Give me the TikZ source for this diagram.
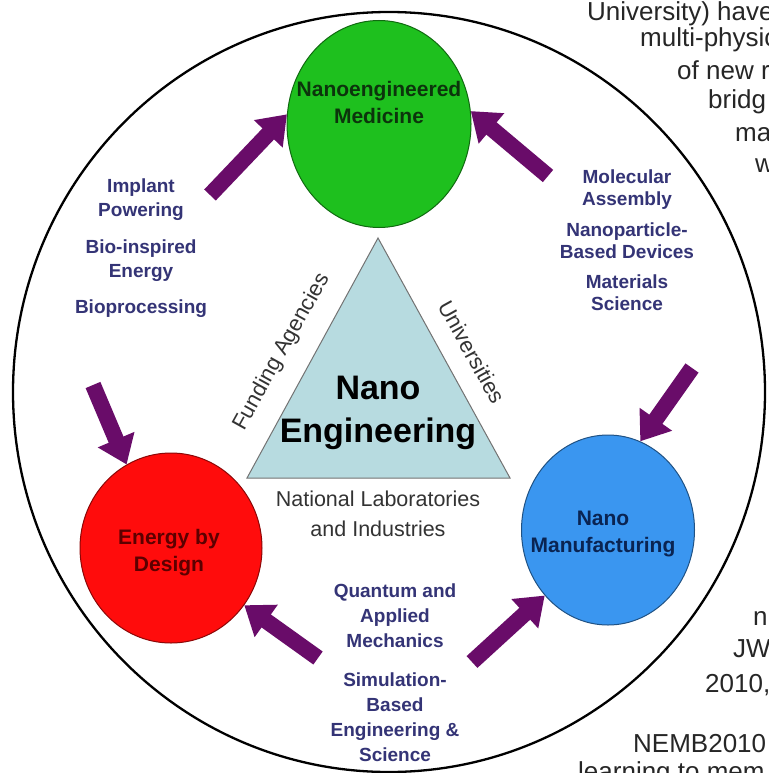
\documentclass[tikz,border=0pt]{standalone}
\usepackage{fontspec}
\setmainfont{Liberation Sans}
\usetikzlibrary{arrows.meta,shapes.geometric}
\definecolor{medgreen}{RGB}{30,192,30}
\definecolor{nrgred}{RGB}{255,12,12}
\definecolor{mfgblue}{RGB}{58,150,240}
\definecolor{trifill}{RGB}{183,219,224}
\definecolor{labelblue}{RGB}{52,52,118}
\definecolor{arrowpurple}{RGB}{105,12,105}
\definecolor{medtext}{RGB}{12,52,12}
\definecolor{nrgtext}{RGB}{92,0,0}
\definecolor{mfgtext}{RGB}{10,36,82}
\begin{document}
\begin{tikzpicture}[x=1pt,y=-1pt,
  hub/.style={ellipse,draw=#1!55!black,fill=#1,line width=1pt,inner sep=0pt},
  hubtext/.style={font=\fontsize{21}{27}\selectfont\bfseries,align=center},
  topic/.style={font=\fontsize{19}{#1}\selectfont\bfseries,text=labelblue,align=center},
  topic/.default=23,
  side/.style={font=\fontsize{22}{26}\selectfont,text=black!80},
  flow/.style={line width=16pt,draw=arrowpurple,-{Triangle[width=38pt,length=27pt]}},
  page/.style={font=\fontsize{26}{32}\selectfont,text=black!85,anchor=base west,inner sep=0pt}]
\useasboundingbox (0,0) rectangle (768,773);
\fill[white] (0,0) rectangle (768,773);
% text of the surrounding page
\node[page] (f1) at (587,21) {University) have};
\node[page] (f2) at (640,47) {multi-physic};
\node[page] (f3) at (677,80) {of new r};
\node[page] (f4) at (708,109) {bridg};
\node[page] (f5) at (735,142) {ma};
\node[page] (f6) at (755,172) {w};
\node[page] (f7) at (753,625) {n};
\node[page] (f8) at (733,657) {JW};
\node[page] (f9) at (705,692) {2010,};
\node[page] (f10) at (633,752) {NEMB2010};
\node[page] (f11) at (578,780) {learning to mem};
\draw[line width=2.3pt] (389,392) ellipse [x radius=376,y radius=380];
% hubs
\node[hub=medgreen,minimum width=184pt,minimum height=207pt] (med) at (379,124) {};
\node[hub=nrgred,minimum width=182pt,minimum height=190pt] (nrg) at (171,548) {};
\node[hub=mfgblue,minimum width=173pt,minimum height=190pt] (mfg) at (608,530) {};
\node[hubtext,text=medtext] (medlbl) at (379,102) {Nanoengineered\\Medicine};
\node[hubtext,text=nrgtext] (nrglbl) at (169,553) {Energy by\\Design};
\node[hubtext,text=mfgtext] (mfglbl) at (603,534) {Nano\\Manufacturing};
% triangle
\coordinate (apex) at (378,238);
\coordinate (bl) at (247,478);
\coordinate (br) at (510,478);
\draw[fill=trifill,draw=black!55,line width=1pt] (apex) -- (br) -- (bl) -- cycle;
\node[font=\fontsize{34}{43}\selectfont\bfseries,align=center] (core) at (378,413) {Nano\\Engineering};
\node[side,rotate=61] (fund) at (282,352) {Funding Agencies};
\node[side,rotate=-61] (univ) at (472,352) {Universities};
\node[side,align=center,font=\fontsize{21.5}{30}\selectfont] (labs) at (378,514) {National Laboratories\\and Industries};
% topics
\node[topic=24] (impl) at (141,199.5) {Implant\\Powering};
\node[topic=24] (bio) at (141,260.5) {Bio-inspired\\Energy};
\node[topic] (proc) at (141,309) {Bioprocessing};
\node[topic=22] (mol) at (627,189.5) {Molecular\\Assembly};
\node[topic=22] (part) at (627,241) {Nanoparticle-\\Based Devices};
\node[topic=22] (mat) at (627,293) {Materials\\Science};
\node[topic=25] (quant) at (395,616) {Quantum and\\Applied\\Mechanics};
\node[topic=25] (sim) at (395,717.5) {Simulation-\\Based\\Engineering \&\\Science};
% arrows
\coordinate (t1) at (210,195);
\coordinate (t2) at (548,176);
\coordinate (t3) at (692,368);
\coordinate (t4) at (93,385);
\coordinate (t5) at (318,658);
\coordinate (t6) at (472,662);
\draw[flow] (t1) -- (med.174);
\draw[flow] (t2) -- (med.8);
\draw[flow] (t3) -- (mfg.70);
\draw[flow] (t4) -- (nrg.118);
\draw[flow] (t5) -- (nrg.-38);
\draw[flow] (t6) -- (mfg.226);
\end{tikzpicture}
\end{document}
